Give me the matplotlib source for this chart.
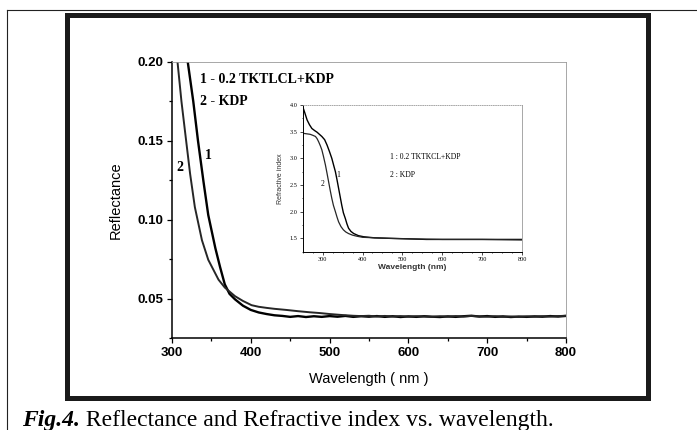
import matplotlib
matplotlib.use("Agg")
import matplotlib.pyplot as plt
from matplotlib.patches import Rectangle
from matplotlib.lines import Line2D
from matplotlib.ticker import MultipleLocator, FormatStrFormatter

# main plot: reflectance, curve 1 = 0.2 TKTLCL+KDP, curve 2 = KDP
wl_1 = [320, 327, 333, 340, 346, 355, 361, 367, 373, 380, 390, 400, 410, 420,
        430, 440, 450, 460, 470, 480, 490, 500, 510, 520, 530, 540, 550, 560,
        570, 580, 590, 600, 610, 620, 630, 640, 650, 660, 670, 680, 690, 700,
        710, 720, 730, 740, 750, 760, 770, 780, 790, 800]
refl_1 = [0.200, 0.175, 0.150, 0.124, 0.103, 0.082, 0.070, 0.059, 0.053, 0.0495,
          0.0455, 0.0428, 0.0412, 0.0402, 0.0394, 0.0390, 0.0384, 0.0389, 0.0383,
          0.0388, 0.0384, 0.0389, 0.0385, 0.0390, 0.0384, 0.0388, 0.0385, 0.0389,
          0.0384, 0.0388, 0.0383, 0.0387, 0.0384, 0.0388, 0.0385, 0.0383, 0.0387,
          0.0384, 0.0388, 0.0391, 0.0386, 0.0389, 0.0384, 0.0387, 0.0383, 0.0386,
          0.0384, 0.0387, 0.0385, 0.0389, 0.0386, 0.0390]

wl_2 = [307, 312, 317, 323, 329, 338, 346, 359, 367, 380, 390, 401, 410, 420,
        430, 445, 460, 475, 488, 500, 515, 530, 540, 550, 560, 570, 580, 590,
        600, 610, 620, 630, 640, 650, 660, 670, 680, 690, 700, 710, 720, 730,
        740, 750, 760, 770, 780, 790, 800]
refl_2 = [0.200, 0.175, 0.154, 0.129, 0.108, 0.087, 0.0746, 0.062, 0.057, 0.0515,
          0.0485, 0.0458, 0.0448, 0.0441, 0.0435, 0.0428, 0.0420, 0.0413, 0.0408,
          0.0402, 0.0396, 0.0391, 0.0389, 0.0391, 0.0386, 0.0390, 0.0386, 0.0389,
          0.0385, 0.0388, 0.0386, 0.0384, 0.0388, 0.0385, 0.0389, 0.0386, 0.0390,
          0.0387, 0.0385, 0.0388, 0.0384, 0.0386, 0.0383, 0.0387, 0.0385, 0.0388,
          0.0386, 0.0389, 0.0391]

# inset: refractive index
iwl_1 = [250, 255, 261, 267, 273, 280, 286, 292, 298, 305, 311, 317, 323, 328,
         332, 336, 340, 344, 348, 352, 357, 361, 365, 371, 378, 390, 403, 430,
         470, 520, 560, 600, 650, 700, 750, 800]
ri_1 = [3.97, 3.86, 3.72, 3.63, 3.56, 3.52, 3.49, 3.45, 3.41, 3.35, 3.25, 3.13,
        3.00, 2.86, 2.75, 2.60, 2.44, 2.28, 2.12, 1.98, 1.87, 1.77, 1.69, 1.63,
        1.59, 1.55, 1.53, 1.51, 1.50, 1.49, 1.48, 1.48, 1.48, 1.48, 1.48, 1.48]

iwl_2 = [250, 260, 269, 276, 282, 286, 290, 294, 298, 302, 307, 311, 315, 319,
         323, 327, 332, 336, 340, 346, 352, 358, 365, 375, 386, 400, 430, 470,
         520, 600, 700, 800]
ri_2 = [3.47, 3.46, 3.45, 3.43, 3.41, 3.37, 3.31, 3.24, 3.16, 3.04, 2.875, 2.72,
        2.56, 2.40, 2.25, 2.12, 2.00, 1.90, 1.81, 1.72, 1.66, 1.62, 1.59, 1.56,
        1.54, 1.52, 1.51, 1.50, 1.49, 1.48, 1.48, 1.47]

W, H = 697, 430
fig = plt.figure(figsize=(W / 100, H / 100), dpi=100)

# page lines and thick black frame
fig.add_artist(Line2D([7 / W, 1], [1 - 10 / H, 1 - 10 / H], color="#222", lw=0.8))
fig.add_artist(Line2D([7 / W, 7 / W], [0, 1 - 10 / H], color="#222", lw=0.8))
fig.add_artist(Rectangle((66.5 / W, 1 - 397.5 / H), (648 - 66.5) / W, (397.5 - 15) / H,
                         fill=False, ec="#1a1a1a", lw=3.6))

ax = fig.add_axes([172 / W, 1 - 338 / H, 394 / W, 276 / H])
ax.plot(wl_1, refl_1, color="black", lw=1.7)
ax.plot(wl_2, refl_2, color="#262626", lw=1.4)
ax.set_xlim(300, 800)
ax.set_ylim(0.025, 0.20)
ax.xaxis.set_major_locator(MultipleLocator(100))
ax.xaxis.set_minor_locator(MultipleLocator(50))
ax.yaxis.set_major_locator(MultipleLocator(0.05))
ax.yaxis.set_minor_locator(MultipleLocator(0.025))
ax.yaxis.set_major_formatter(FormatStrFormatter("%.2f"))
ax.tick_params(which="both", direction="out", top=False, right=False, width=0.9)
ax.tick_params(which="major", length=3.5, pad=3)
ax.tick_params(which="minor", length=2)
for lab in ax.get_xticklabels() + ax.get_yticklabels():
    lab.set_fontfamily("Liberation Sans")
    lab.set_fontweight("bold")
    lab.set_fontsize(9.5)
for s in ["left", "bottom"]:
    ax.spines[s].set_linewidth(1.1)
for s in ["top", "right"]:
    ax.spines[s].set_linewidth(0.6)
    ax.spines[s].set_color("#999999")
ax.set_xlabel("Wavelength ( nm )", family="Liberation Sans", fontsize=10.5, labelpad=9)
ax.set_ylabel("Reflectance", family="Liberation Sans", fontsize=10.5, labelpad=10)

ax.text(335.5, 0.189, "1 - 0.2 TKTLCL+KDP", family="Liberation Serif",
        weight="bold", fontsize=10, va="center")
ax.text(335.5, 0.1747, "2 - KDP", family="Liberation Serif",
        weight="bold", fontsize=10, va="center")
ax.text(345.7, 0.141, "1", family="Liberation Serif", weight="bold",
        fontsize=10, ha="center", va="center")
ax.text(310, 0.133, "2", family="Liberation Serif", weight="bold",
        fontsize=10, ha="center", va="center")

# inset
ins = fig.add_axes([302.7 / W, 1 - 251.7 / H, 219.3 / W, 146.7 / H])
ins.plot(iwl_1, ri_1, color="black", lw=1.0)
ins.plot(iwl_2, ri_2, color="#262626", lw=0.9)
ins.set_xlim(250, 800)
ins.set_ylim(1.25, 4.0)
ins.xaxis.set_major_locator(MultipleLocator(100))
ins.xaxis.set_minor_locator(MultipleLocator(25))
ins.yaxis.set_major_locator(MultipleLocator(0.5))
ins.yaxis.set_minor_locator(MultipleLocator(0.25))
ins.yaxis.set_major_formatter(FormatStrFormatter("%.1f"))
ins.tick_params(which="both", direction="out", top=False, right=False,
                labelsize=4.5, width=0.5, pad=1.5)
ins.tick_params(which="major", length=2)
ins.tick_params(which="minor", length=1)
for lab in ins.get_xticklabels() + ins.get_yticklabels():
    lab.set_fontfamily("Liberation Serif")
for s in ["left", "bottom"]:
    ins.spines[s].set_linewidth(0.7)
for s in ["top", "right"]:
    ins.spines[s].set_linewidth(0.6)
    ins.spines[s].set_color("#999999")
ins.spines["top"].set_linestyle(":")
ins.set_xlabel("Wavelength (nm)", family="Liberation Sans", fontsize=6,
               weight="bold", color="#333333", labelpad=2)
ins.set_ylabel("Refractive index", family="Liberation Sans", fontsize=5,
               color="#333333", labelpad=4)
ins.text(469, 3.03, "1 : 0.2 TKTKCL+KDP", family="Liberation Serif",
         fontsize=5.5, va="center")
ins.text(469, 2.69, "2 : KDP", family="Liberation Serif", fontsize=5.5, va="center")
ins.text(339, 2.69, "1", family="Liberation Serif", fontsize=5.5, ha="center", va="center")
ins.text(299, 2.51, "2", family="Liberation Serif", fontsize=5.5, ha="center", va="center")

# caption
cap = fig.text(22 / W, 1 - 426 / H, "Fig.4.", family="Liberation Serif",
               weight="bold", style="italic", fontsize=17, va="baseline")
ax.annotate(" Reflectance and Refractive index vs. wavelength.", xy=(1, 0),
            xycoords=cap, va="bottom", ha="left", family="Liberation Serif",
            fontsize=17, annotation_clip=False)

fig.savefig("out.png", dpi=100)
